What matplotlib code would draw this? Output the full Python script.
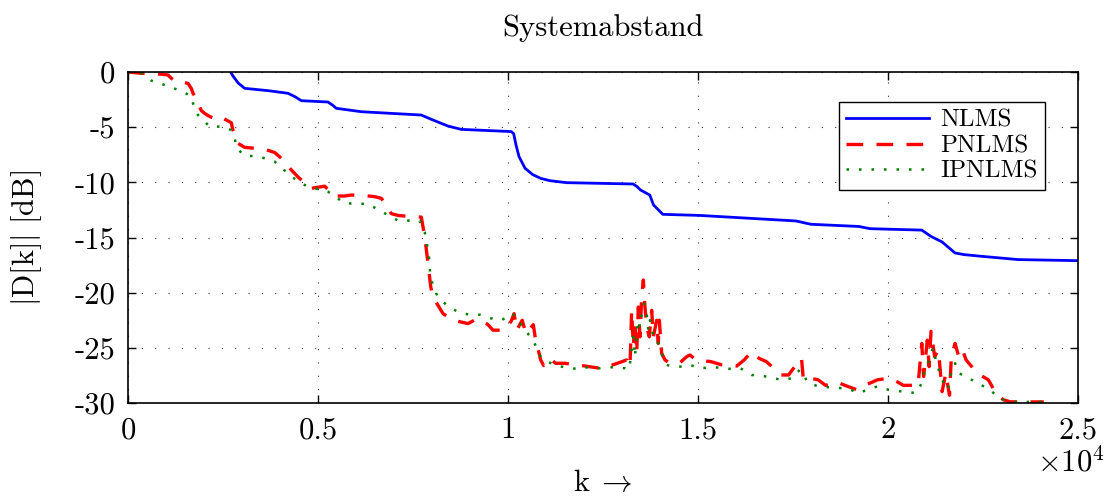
import matplotlib
matplotlib.use("Agg")
import matplotlib.pyplot as plt

plt.rcParams["font.family"] = ["cmr10", "DejaVu Serif"]
plt.rcParams["mathtext.fontset"] = "cm"
plt.rcParams["axes.unicode_minus"] = False

# ---- data: system distance |D[k]| in dB over iteration index k ----
nlms_k = [2700, 2760, 2807, 2900, 3070, 3684, 4210, 4400, 4560, 5263, 5400, 5481,
          6140, 7718, 7982, 8421, 8771, 10087, 10150, 10210, 10290, 10450, 10650,
          10860, 11100, 11542, 13294, 13400, 13489, 13731, 13829, 14074, 15047,
          17579, 17968, 19234, 19526, 20889, 21131, 21423, 21763, 22000, 22447,
          23421, 25000]
nlms_db = [0.0, -0.35, -0.57, -1.0, -1.48, -1.69, -1.93, -2.25, -2.6, -2.72, -3.05,
           -3.29, -3.6, -3.9, -4.29, -4.9, -5.2, -5.4, -5.6, -6.6, -7.67, -8.73, -9.3,
           -9.64, -9.85, -10.03, -10.15, -10.4, -10.7, -11.15, -12.05, -12.9, -13.0,
           -13.5, -13.8, -14.0, -14.2, -14.33, -14.9, -15.4, -16.4, -16.55, -16.7,
           -17.0, -17.1]

pnlms_k = [0, 351, 877, 1053, 1140, 1316, 1404, 1579, 1667, 1711, 1798, 1842, 1930,
           2017, 2105, 2193, 2280, 2412, 2560, 2719, 2760, 2850, 2895, 3070, 3597,
           3860, 4035, 4298, 4500, 4825, 5175, 5307, 5439, 5702, 5877, 6228, 6491,
           6667, 6930, 7105, 7412, 7719, 7807, 7895, 7965, 8026, 8202, 8290, 8465,
           8684, 8947, 9167, 9300, 9474, 9605, 9887, 10082, 10159, 10228, 10374,
           10471, 10666, 10714, 10763, 10860, 10938, 11104, 11250, 11493, 11834,
           12126, 12418, 12710, 13123, 13210, 13254, 13298, 13342, 13386, 13430,
           13474, 13518, 13561, 13605, 13649, 13719, 13781, 13825, 13912, 13956,
           13982, 14044, 14132, 14263, 14526, 14702, 14789, 14950, 15339, 15631,
           16021, 16215, 16410, 16605, 16799, 16994, 17189, 17384, 17481, 17724,
           17773, 17968, 18162, 18357, 18649, 18941, 19185, 19379, 19525, 19720,
           20012, 20256, 20402, 20791, 20889, 20937, 21035, 21083, 21132, 21229,
           21327, 21424, 21521, 21619, 21667, 21765, 21862, 21960, 22057, 22349,
           22641, 22836, 23030, 23225, 24101]
pnlms_db = [0.0, -0.12, -0.2, -0.27, -0.57, -0.97, -0.9, -1.03, -1.5, -1.93, -2.4,
            -2.84, -3.5, -3.75, -3.95, -4.1, -4.2, -4.0, -4.3, -4.6, -5.26, -6.0, -6.47,
            -6.83, -7.0, -7.3, -7.82, -8.88, -9.6, -10.54, -10.35, -10.8, -11.24,
            -11.24, -11.15, -11.2, -11.3, -11.45, -12.84, -13.0, -13.1, -13.15, -14.9,
            -17.3, -19.45, -20.4, -21.4, -21.9, -22.3, -22.6, -22.8, -22.4, -22.5,
            -22.9, -23.4, -23.4, -22.6, -21.9, -23.4, -22.5, -23.7, -22.9, -24.0,
            -24.7, -26.1, -26.6, -25.95, -26.4, -26.4, -26.55, -26.7, -26.85, -26.6,
            -26.1, -26.7, -21.6, -24.9, -22.5, -25.5, -21.3, -24.0, -20.4, -18.85,
            -21.3, -23.1, -24.0, -21.6, -24.0, -22.5, -24.6, -22.5, -25.5, -26.1,
            -26.4, -26.35, -25.8, -25.65, -26.1, -26.25, -26.55, -26.65, -26.1,
            -25.35, -25.95, -26.25, -26.85, -27.46, -27.46, -27.0, -25.95, -27.9,
            -27.76, -27.9, -28.4, -28.1, -28.5, -28.8, -28.4, -28.2, -27.9, -27.76,
            -28.1, -28.4, -28.4, -24.6, -27.6, -24.3, -26.7, -23.5, -25.8, -25.2,
            -28.97, -27.3, -29.3, -25.8, -24.6, -25.8, -25.2, -26.1, -27.3, -27.9,
            -29.1, -29.7, -29.9, -29.9]

ipnlms_k = [0, 351, 614, 965, 1447, 1667, 1711, 1842, 2149, 2412, 2719, 2807, 2851,
            3026, 3509, 3860, 4298, 4649, 4912, 5263, 5702, 6316, 6754, 7105, 7675,
            7719, 7807, 7868, 7921, 7939, 7982, 8070, 8158, 8377, 8640, 8816, 9035,
            9254, 9518, 9825, 10130, 10276, 10374, 10471, 10617, 10714, 10812, 10958,
            11250, 11493, 11785, 12126, 12418, 12710, 13079, 13167, 13210, 13254,
            13298, 13342, 13386, 13430, 13474, 13518, 13579, 13649, 13693, 13737,
            13825, 13870, 13956, 14044, 14088, 14175, 14351, 14614, 14789, 15047,
            15436, 15826, 16118, 16410, 16799, 17189, 17481, 17676, 17773, 17870,
            18162, 18552, 18941, 19233, 19525, 19720, 20012, 20402, 20742, 20889,
            20986, 21083, 21181, 21278, 21424, 21570, 21667, 21765, 21862, 22057,
            22349, 22641, 22885, 23128, 24101]
ipnlms_db = [0.0, -0.1, -0.78, -1.18, -1.78, -2.23, -2.84, -3.9, -4.95, -4.95, -5.26,
             -6.0, -6.76, -7.52, -7.73, -8.12, -9.48, -10.24, -10.54, -10.85, -11.9,
             -11.96, -12.8, -13.47, -13.47, -14.0, -14.5, -15.6, -16.75, -17.8, -18.85,
             -19.76, -20.4, -21.1, -21.66, -21.9, -22.0, -22.0, -22.3, -22.5, -21.9,
             -22.8, -22.9, -23.5, -24.1, -24.7, -25.6, -26.1, -26.6, -26.76, -26.9,
             -26.76, -26.85, -26.76, -26.85, -27.0, -26.4, -25.2, -24.0, -25.8, -23.7,
             -22.5, -23.1, -21.9, -21.0, -21.9, -23.4, -22.5, -24.0, -24.45, -24.6,
             -25.5, -26.1, -26.55, -26.7, -26.7, -26.55, -26.85, -26.76, -26.9, -26.85,
             -27.46, -27.6, -27.9, -27.76, -27.0, -27.3, -28.1, -28.5, -28.6, -28.7,
             -29.1, -28.7, -28.5, -28.8, -28.97, -29.1, -28.2, -26.7, -26.1, -25.0,
             -26.4, -27.9, -28.8, -27.16, -26.4, -27.3, -27.6, -28.2, -28.7, -29.4,
             -29.9, -29.9]

series_names = ["NLMS", "PNLMS", "IPNLMS"]
x_ticks = [0, 5000, 10000, 15000, 20000, 25000]
x_tick_labels = ["0", "0.5", "1", "1.5", "2", "2.5"]
y_ticks = [0, -5, -10, -15, -20, -25, -30]
y_tick_labels = ["0", "-5", "-10", "-15", "-20", "-25", "-30"]

# ---- figure ----
fig = plt.figure(figsize=(11.12, 5.0), dpi=100)
ax = fig.add_axes([128 / 1112, 1 - 403 / 500, 950 / 1112, 331 / 500])

ax.plot(nlms_k, nlms_db, color="#0000ff", lw=2.0, label=series_names[0],
        solid_joinstyle="round")
ax.plot(pnlms_k, pnlms_db, color="#ff0000", lw=2.4, dashes=(5, 4),
        label=series_names[1], dash_capstyle="butt")
ax.plot(ipnlms_k, ipnlms_db, color="#008000", lw=1.8, dashes=(1, 4),
        label=series_names[2])

ax.set_xlim(0, 25000)
ax.set_ylim(-30, 0)
ax.set_xticks(x_ticks)
ax.set_xticklabels(x_tick_labels)
ax.set_yticks(y_ticks)
ax.set_yticklabels(y_tick_labels)

ax.tick_params(direction="in", length=6, width=1.0, top=True, right=True,
               labelsize=22, pad=9)
ax.tick_params(axis="x", pad=10)
for s in ax.spines.values():
    s.set_linewidth(1.2)

ax.grid(True, color="#303030", lw=0.8, linestyle=(0, (1, 11)))
ax.set_axisbelow(True)

ax.set_title("Systemabstand", fontsize=22, pad=26)
ax.set_xlabel(r"$\mathrm{k}\;\rightarrow$", fontsize=22, labelpad=18)
ax.set_ylabel(r"$|\mathrm{D[k]}|\ [\mathrm{dB}]$", fontsize=22, labelpad=22)
ax.text(1.028, -0.178, r"$\times10^{4}$", transform=ax.transAxes,
        ha="right", va="center", fontsize=22)

leg = ax.legend(loc="upper right", bbox_to_anchor=(0.9653, 0.9094),
                borderaxespad=0, fontsize=18, fancybox=False, framealpha=1,
                edgecolor="black", handlelength=3.3, handletextpad=0.45,
                labelspacing=0.12, borderpad=0.3)
leg.get_frame().set_linewidth(1.0)

fig.savefig("out.png", dpi=100)
